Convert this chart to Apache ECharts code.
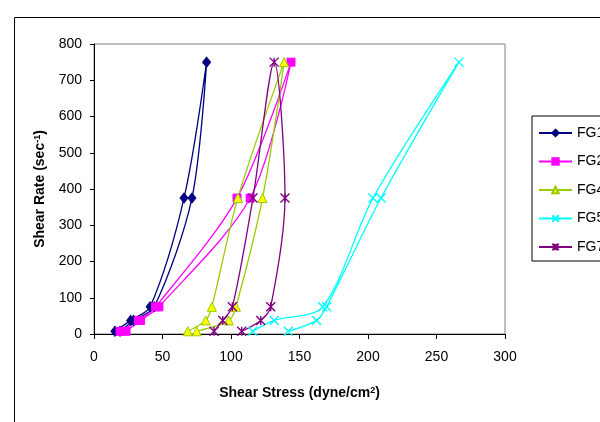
<!DOCTYPE html>
<html>
<head>
<meta charset="utf-8">
<script src="https://cdn.jsdelivr.net/npm/echarts@6/dist/echarts.min.js"></script>
<style>
  html, body { margin: 0; padding: 0; background: #fff; }
  #chart { width: 600px; height: 422px; }
</style>
</head>
<body>
<div id="chart"></div>
<script>
// shear rate steps: up curve then down curve
var shearRate = [7.5, 37.5, 75, 375, 750, 375, 75, 37.5, 7.5];

// shear stress (dyne/cm2) for each formulation
var fg1 = [19, 29, 44, 71.5, 82.2, 65.7, 41, 26.8, 15.3];
var fg2 = [23.4, 34, 47.4, 114, 143.8, 104.4, 45, 32.4, 19];
var fg4 = [75, 98.5, 103.6, 123, 138.8, 105, 86, 81.5, 68.4];
var fg5 = [141.8, 162.5, 169.8, 209.5, 266.4, 203.6, 166.9, 131.6, 115.8];
var fg7 = [107.8, 121.7, 129, 139.4, 131.5, 116, 101, 94, 87.6];

var names = ['FG1', 'FG2', 'FG4', 'FG5', 'FG7'];
var xTicks = [0, 50, 100, 150, 200, 250, 300];
var yTicks = [0, 100, 200, 300, 400, 500, 600, 700, 800];

function pairs(stress) {
  return stress.map(function (s, i) { return [s, shearRate[i]]; });
}

var font = '"Liberation Sans", Arial, sans-serif';
var chart = echarts.init(document.getElementById('chart'));

function mkSeries(name, data, color, symbol, size, fill) {
  return {
    name: name,
    type: 'line',
    data: pairs(data),
    smooth: 0.3,
    symbol: symbol,
    symbolSize: size,
    showAllSymbol: true,
    lineStyle: { color: color, width: 1.3 },
    itemStyle: { color: fill, borderColor: color, borderWidth: (fill === 'transparent') ? 1.4 : 1 },
    emphasis: { disabled: true }
  };
}

var option = {
  animation: false,
  backgroundColor: '#fff',
  grid: {
    left: 94, top: 44, right: 95, bottom: 88,
    show: true, borderColor: '#808080', borderWidth: 1
  },
  legend: {
    orient: 'vertical',
    left: 532, top: 116,
    padding: [10, 12, 7, 6],
    itemWidth: 33, itemHeight: 8, itemGap: 14.5,
    borderColor: '#000', borderWidth: 1,
    selectedMode: false,
    textStyle: { fontFamily: font, fontSize: 14, lineHeight: 14, color: '#000' },
    data: names
  },
  xAxis: {
    type: 'value', min: 0, max: 300, interval: 50,
    name: 'Shear Stress (dyne/cm{sup|2})',
    nameLocation: 'middle', nameGap: 52,
    nameTextStyle: {
      fontFamily: font, fontSize: 14, fontWeight: 'bold', color: '#000',
      rich: { sup: { fontFamily: font, fontSize: 9, fontWeight: 'bold', color: '#000', verticalAlign: 'top', padding: [0, 0, 6, 0] } }
    },
    axisLine: { lineStyle: { color: '#000', width: 1 } },
    axisTick: { inside: false, length: 5, lineStyle: { color: '#000' } },
    splitLine: { show: false },
    axisLabel: {
      margin: 16, fontFamily: font, fontSize: 14, color: '#000',
      formatter: function (v) { return xTicks.indexOf(v) >= 0 ? String(v) : ''; }
    }
  },
  yAxis: {
    type: 'value', min: 0, max: 800, interval: 100,
    name: 'Shear Rate (sec{sup|-1})',
    nameLocation: 'middle', nameGap: 46, nameRotate: 90,
    nameTextStyle: {
      fontFamily: font, fontSize: 14, fontWeight: 'bold', color: '#000',
      rich: { sup: { fontFamily: font, fontSize: 9, fontWeight: 'bold', color: '#000', verticalAlign: 'top', padding: [0, 0, 6, 0] } }
    },
    axisLine: { show: true, lineStyle: { color: '#000', width: 1 } },
    axisTick: { show: true, inside: false, length: 4, lineStyle: { color: '#000' } },
    splitLine: { show: false },
    axisLabel: {
      margin: 12, fontFamily: font, fontSize: 14, color: '#000',
      formatter: function (v) { return yTicks.indexOf(v) >= 0 ? String(v) : ''; }
    }
  },
  graphic: [{
    type: 'rect', left: 12, top: 15, silent: true,
    shape: { width: 700, height: 500 },
    style: { fill: 'none', stroke: '#000', lineWidth: 1 }
  }],
  series: [
    mkSeries('FG1', fg1, '#000080', 'diamond', [8, 10], '#000080'),
    mkSeries('FG2', fg2, '#FF00FF', 'rect', 8, '#FF00FF'),
    mkSeries('FG4', fg4, '#99CC00', 'triangle', 9, '#FFFF00'),
    mkSeries('FG5', fg5, '#00FFFF', 'path://M0,0L10,10M10,0L0,10', 9, 'transparent'),
    mkSeries('FG7', fg7, '#800080', 'path://M0,0L10,10M10,0L0,10M5,0L5,10', 9, 'transparent')
  ]
};

chart.setOption(option);
</script>
</body>
</html>
